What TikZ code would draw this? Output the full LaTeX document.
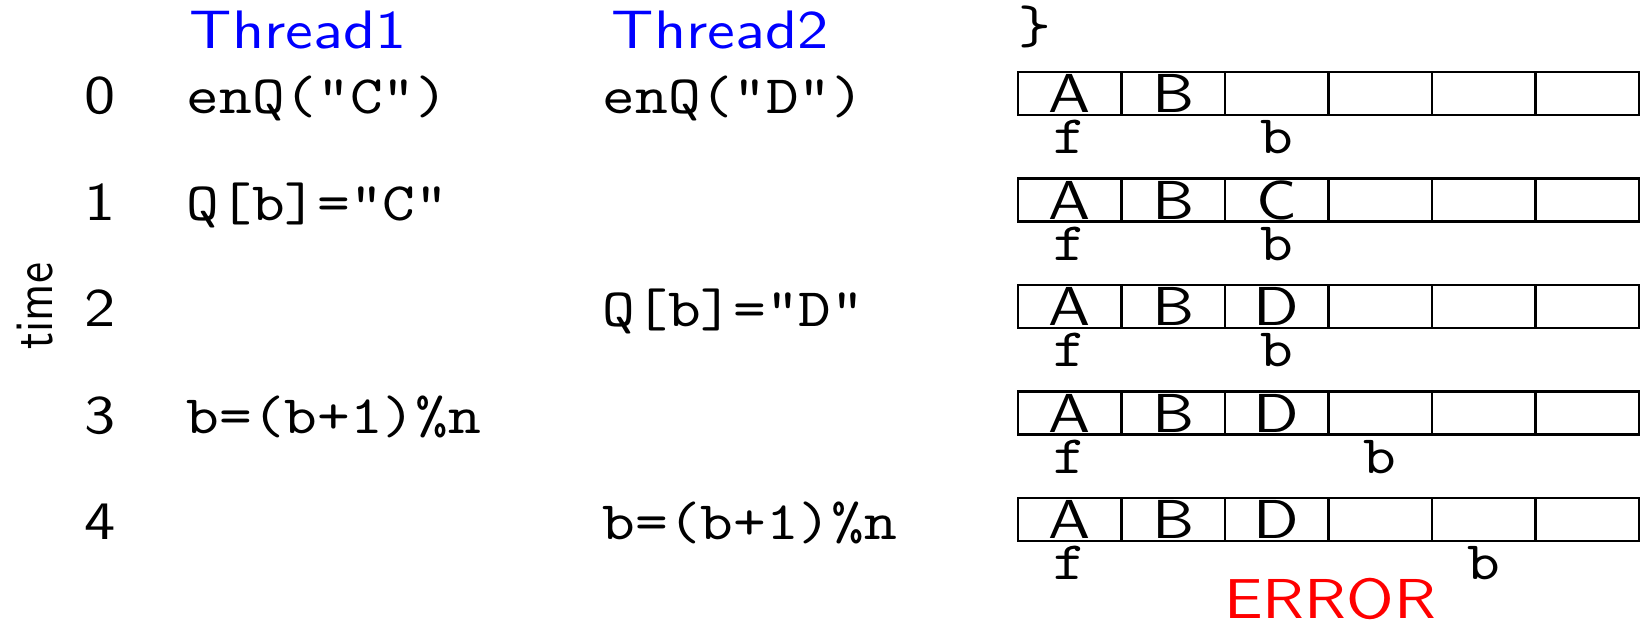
\documentclass[tikz,border=0pt]{standalone}
\usepackage{fontspec}
\setsansfont{lmsans10-regular.otf}[FakeStretch=1.15]
\setmonofont{lmmono10-regular.otf}[FakeStretch=1.15]
\newfontfamily\timefont{lmsans10-regular.otf}[FakeStretch=0.87]
\usetikzlibrary{positioning}

\begin{document}
\begin{tikzpicture}[
    x=0.01cm,y=-0.01cm,
    head/.style={font=\fontsize{15.4}{18}\selectfont\sffamily,text=blue,
                 inner sep=0,anchor=base west},
    num/.style={font=\fontsize{15.4}{18}\selectfont\sffamily,inner sep=0,
                anchor=base west},
    code/.style={font=\fontsize{15.4}{18}\selectfont\ttfamily,inner sep=0,
                 anchor=base west},
    cell/.style={draw,line width=0.6pt,minimum width=1.035cm,
                 minimum height=0.43cm,inner sep=0,text height=0.40cm,
                 text depth=0.02cm,font=\fontsize{15.6}{18}\selectfont\sffamily},
    ptr/.style={font=\fontsize{15.4}{18}\selectfont\ttfamily,inner sep=0,
                anchor=base}
  ]
    \useasboundingbox (0,0) rectangle (1642,625);

    % column heads
    \node[head] (th1) at (189,49) {Thread1};
    \node[head] (th2) at (611,49) {Thread2};
    \node[code] (brace) at (1018,44) {\}};
    \node[font=\fontsize{15.4}{18}\selectfont\timefont,rotate=90,anchor=base,
          inner sep=0] (time) at (52,306) {time};

    % time steps and the two threads
    \foreach \r in {0,...,4}
      \node[num] (t\r) at (84,{114+106.5*\r}) {\r};
    \node[code] (a0) at (186,114) {enQ("C")};
    \node[code] (a1) at (186,220.5) {Q[b]="C"};
    \node[code] (a3) at (186,433.5) {b=(b+1)\%n};
    \node[code] (c0) at (602,114) {enQ("D")};
    \node[code] (c2) at (602,327) {Q[b]="D"};
    \node[code] (c4) at (602,540) {b=(b+1)\%n};

    % queue contents with front/back pointers
    \foreach \r/\qa/\qb/\qc/\bk in {0/A/B/{}/3,1/A/B/C/3,2/A/B/D/3,
                                    3/A/B/D/4,4/A/B/D/5} {
      \foreach \k/\t in {1/\qa,2/\qb,3/\qc,4/{},5/{},6/{}}
        \node[cell] (q\r-\k) at ({1018+103.5*(\k-0.5)},{93.5+106.5*\r}) {\t};
      \node[ptr] (f\r) at ([yshift=-0.375cm]q\r-1.south) {f};
      \node[ptr] (b\r) at ([yshift=-0.375cm]q\r-\bk.south) {b};
    }

    \node[font=\fontsize{16}{19}\selectfont\sffamily,text=red,inner sep=0,
          anchor=base] (err) at (1330,619) {ERROR};
  \end{tikzpicture}
\end{document}
